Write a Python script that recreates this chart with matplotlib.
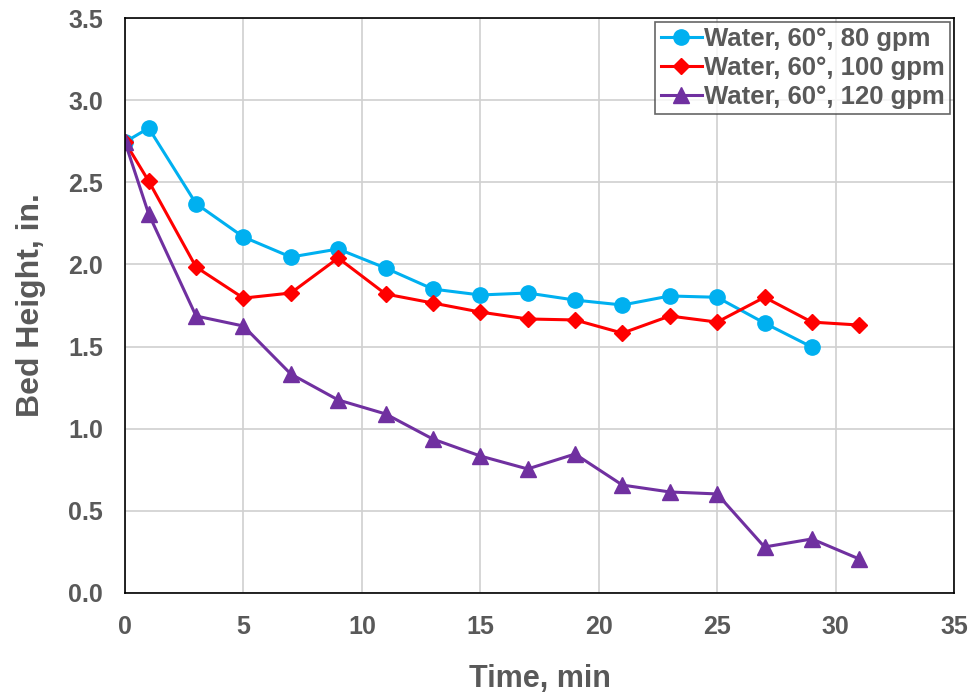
import matplotlib
matplotlib.use("Agg")
import matplotlib.pyplot as plt

# bed height measurements, water at 60 degrees, three flow rates
t80 = [0, 1, 3, 5, 7, 9, 11, 13, 15, 17, 19, 21, 23, 25, 27, 29]
h80 = [2.745, 2.83, 2.37, 2.167, 2.045, 2.094, 1.978, 1.85, 1.814, 1.826,
       1.783, 1.753, 1.808, 1.80, 1.643, 1.497]

t100 = [0, 1, 3, 5, 7, 9, 11, 13, 15, 17, 19, 21, 23, 25, 27, 29, 31]
h100 = [2.745, 2.507, 1.984, 1.795, 1.826, 2.039, 1.82, 1.765, 1.71, 1.668,
        1.662, 1.582, 1.686, 1.649, 1.80, 1.649, 1.631]

t120 = [0, 1, 3, 5, 7, 9, 11, 13, 15, 17, 19, 21, 23, 25, 27, 29, 31]
h120 = [2.745, 2.307, 1.686, 1.625, 1.333, 1.175, 1.09, 0.937, 0.834, 0.755,
        0.846, 0.657, 0.615, 0.603, 0.28, 0.329, 0.207]

labels = ["Water, 60°, 80 gpm", "Water, 60°, 100 gpm", "Water, 60°, 120 gpm"]

plt.rcParams['font.family'] = ['Liberation Sans', 'DejaVu Sans']
gray = '#595959'

fig = plt.figure(figsize=(9.74, 6.98), dpi=100)
ax = fig.add_axes([125/974, 1 - 593/698, (954-125)/974, (593-18)/698])

ax.plot(t80, h80, color='#00b0f0', marker='o', markersize=11, lw=2.2, label=labels[0])
ax.plot(t100, h100, color='#ff0000', marker='D', markersize=8, lw=2.2, label=labels[1])
ax.plot(t120, h120, color='#7030a0', marker='^', markersize=11, lw=2.2, label=labels[2])

ax.set_xlim(0, 35)
ax.set_ylim(0, 3.5)
ax.set_xticks(range(0, 36, 5))
ax.set_yticks([i * 0.5 for i in range(8)])
ax.set_yticklabels([f"{i * 0.5:.1f}" for i in range(8)])
ax.grid(True, color='#d0d0d0', lw=1.2)
ax.set_axisbelow(True)
for s in ax.spines.values():
    s.set_color('black')
    s.set_linewidth(1.2)
ax.tick_params(axis='y', length=0, pad=16, labelsize=18, labelcolor=gray)
ax.tick_params(axis='x', length=0, pad=16, labelsize=18, labelcolor=gray)
for lab in ax.get_xticklabels() + ax.get_yticklabels():
    lab.set_fontweight('bold')

ax.set_xlabel('Time, min', fontsize=22, fontweight='bold', color=gray, labelpad=18)
ax.set_ylabel('Bed Height, in.', fontsize=23, fontweight='bold', color=gray, labelpad=16)

leg = ax.legend(loc='upper right', prop={'weight': 'bold', 'size': 18.5},
                frameon=True, fancybox=False, edgecolor='#404040',
                handlelength=1.6, handletextpad=0.1, borderpad=0.2,
                labelspacing=0.2, borderaxespad=0.15, markerscale=1.0)
leg.get_frame().set_linewidth(1.2)
for txt in leg.get_texts():
    txt.set_color(gray)

fig.savefig('out.png', dpi=100)
